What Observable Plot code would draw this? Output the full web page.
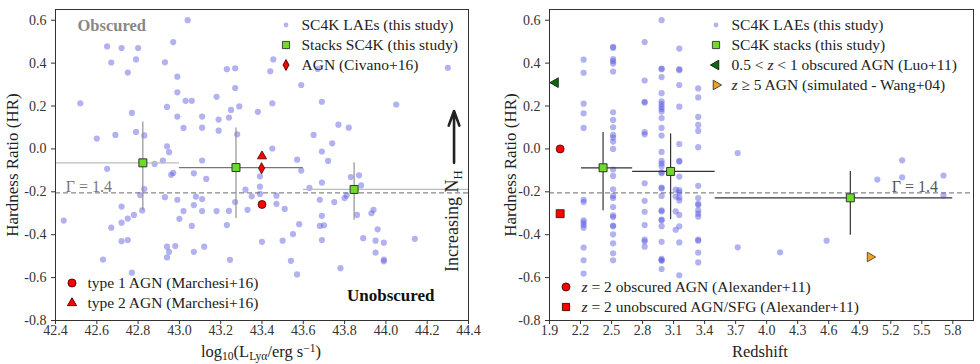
<!DOCTYPE html>
<html><head><meta charset="utf-8">
<script src="https://cdn.jsdelivr.net/npm/d3@7"></script>
<script src="https://cdn.jsdelivr.net/npm/@observablehq/plot@0.6"></script>
<style>
body{margin:0;background:#fff;}
#wrap{position:relative;width:980px;height:364px;}
#left,#right{position:absolute;top:0;}
#left{left:0}#right{left:490px}
</style></head><body><div id="wrap"><div id="left"></div><div id="right"></div></div>
<script>
// ---------- DATA ----------
const xTicksL = [42.4,42.6,42.8,43.0,43.2,43.4,43.6,43.8,44.0,44.2,44.4];
const xTicksR = [1.9,2.2,2.5,2.8,3.1,3.4,3.7,4.0,4.3,4.6,4.9,5.2,5.5,5.8];
const yTicks = [-0.8,-0.6,-0.4,-0.2,0.0,0.2,0.4,0.6];
const gammaHR = -0.205;

// Left panel: SC4K LAEs, log10 L_Lya vs HR
const laeLogL = [43.04,42.65,42.72,42.80,42.97,42.67,42.79,42.75,42.93,42.99,43.23,43.27,43.455,43.44,43.67,44.30,43.59,43.27,42.99,42.52,43.03,43.06,43.18,42.94,42.77,42.99,43.02,43.11,43.11,43.25,43.29,43.24,43.19,43.19,43.38,43.45,43.69,44.05,43.77,43.82,43.65,43.74,43.69,43.72,43.45,43.57,43.59,42.60,42.69,42.79,42.83,42.94,42.95,42.92,42.88,42.65,42.97,42.96,43.11,43.07,43.13,43.28,43.39,43.39,43.32,43.35,43.39,43.47,43.47,43.51,43.27,43.33,43.24,43.18,43.11,43.02,43.07,43.08,43.11,42.99,42.93,43.00,43.06,43.23,42.83,42.81,42.82,42.78,42.75,42.72,42.72,42.67,42.44,42.72,42.75,42.94,42.95,42.94,42.98,43.07,43.12,42.63,42.77,43.245,43.40,43.50,43.55,43.58,43.54,43.57,43.63,43.69,43.68,43.75,43.80,43.81,43.83,43.87,43.88,43.86,43.69,43.70,43.68,43.69,43.78,43.89,43.93,43.94,43.96,43.95,43.99,43.95,43.99,43.99,44.14];
const laeHRL = [0.60,0.478,0.47,0.47,0.498,0.403,0.417,0.356,0.404,0.337,0.372,0.376,0.417,0.362,0.373,0.378,0.298,0.284,0.264,0.213,0.224,0.224,0.243,0.196,0.168,0.151,0.098,0.151,0.099,0.182,0.198,0.146,0.137,0.085,0.173,0.213,0.22,0.207,0.113,0.099,0.065,0.026,-0.012,-0.056,0.002,-0.05,-0.101,0.048,0.065,0.079,0.063,0.012,-0.015,-0.054,-0.07,-0.093,-0.112,-0.121,-0.054,-0.114,-0.14,0.068,-0.128,-0.176,-0.19,-0.221,-0.21,-0.218,-0.256,-0.28,-0.248,-0.284,-0.289,-0.29,-0.29,-0.29,-0.262,-0.222,-0.234,-0.237,-0.225,-0.326,-0.359,-0.355,-0.187,-0.215,-0.287,-0.308,-0.325,-0.269,-0.344,-0.367,-0.334,-0.43,-0.425,-0.456,-0.48,-0.506,-0.453,-0.48,-0.456,-0.516,-0.577,-0.517,-0.433,-0.428,-0.397,-0.351,-0.522,-0.585,-0.182,-0.157,-0.237,-0.248,-0.229,-0.217,-0.131,-0.123,-0.17,-0.308,-0.312,-0.356,-0.359,-0.425,-0.556,-0.416,-0.3,-0.284,-0.375,-0.428,-0.437,-0.484,-0.516,-0.524,-0.419];

// Left panel stacks
const stackLogL = [42.823,43.274,43.846];
const stackLogLlo = [42.4,43.0,43.6];
const stackLogLhi = [43.0,43.6,44.4];
const stackHRL = [-0.065,-0.087,-0.189];
const stackHRLlo = [-0.287,-0.325,-0.333];
const stackHRLhi = [0.126,0.098,-0.065];

// Left panel comparison AGN
const civanoLogL = [43.398], civanoHR = [-0.09];
const marchesi1LogL = [43.4], marchesi1HR = [-0.259];
const marchesi2LogL = [43.4], marchesi2HR = [-0.034];

// Right panel: LAEs grouped by redshift column
const laeZcols = [2.23,2.515,2.82,2.984,3.12,3.155,3.338,3.72,4.13,4.58,5.07,5.31,5.71];
const laeHRcols = [
  [0.416,0.355,0.211,0.166,0.098,-0.237,-0.248,-0.333,-0.343,-0.355,-0.367,-0.46,-0.519,-0.581],
  [0.476,0.471,0.419,0.409,0.398,0.361,0.171,0.135,0.101,0.065,0.053,0.034,0.0,-0.096,-0.126,-0.188,-0.219,-0.229,-0.271,-0.31,-0.318,-0.357,-0.361,-0.398,-0.44,-0.487,-0.519],
  [0.498,0.319,0.22,0.216,0.078,0.068,-0.16,-0.242,-0.293,-0.355,-0.423,-0.431,-0.456],
  [0.6,0.375,0.372,0.335,0.26,0.222,0.209,0.197,0.186,0.174,0.144,0.098,0.062,-0.014,-0.056,-0.068,-0.081,-0.109,-0.113,-0.18,-0.184,-0.219,-0.287,-0.291,-0.329,-0.333,-0.36,-0.433,-0.513,-0.518,-0.522,-0.56],
  [-0.19,-0.222,-0.291,-0.377],
  [0.468,0.372,0.367,0.298,0.197,0.023,-0.056,-0.059,-0.129,-0.192,-0.203,-0.226,-0.24,-0.308,-0.361,-0.436,-0.589],
  [0.282,0.24,0.149,0.112,0.084,0.008,-0.172,-0.229,-0.256,-0.262,-0.287,-0.302,-0.316,-0.423,-0.428,-0.484,-0.529],
  [-0.019,-0.459],
  [-0.482],
  [-0.428],
  [-0.143],
  [-0.053,-0.132],
  [-0.124,-0.217]
];

// Right panel stacks
const stackZ = [2.418,3.071,4.809];
const stackZlo = [2.209,2.704,3.502];
const stackZhi = [2.704,3.502,5.80];
const stackHRR = [-0.088,-0.105,-0.228];
const stackHRRlo = [-0.288,-0.33,-0.403];
const stackHRRhi = [0.076,0.07,-0.105];

// Right panel comparison samples
const luoZ = [1.958], luoHR = [0.309];
const wangZ = [5.0], wangHR = [-0.504];
const alexObsZ = [2.003], alexObsHR = [0.0];
const alexUnobsZ = [2.003], alexUnobsHR = [-0.302];

// annotations
const arrowNH = {x: 44.33, y1: -0.065, y2: 0.177};
const gammaLabelL = {x: 42.45, y: gammaHR};
const gammaLabelR = {x: 5.21, y: gammaHR};

// ---------- HELPERS ----------
const FONT = '"Liberation Serif", "Times New Roman", serif';
const LAE_FILL = "#5555dd";
const GREEN = "#6bdc2c";
const fmt = d => d.toFixed(1);
const pts = (xs, ys) => xs.map((x, i) => ({x, y: ys[i]}));
const thinDiamond = {
  draw(ctx, size) {
    const s = Math.sqrt(size / Math.PI);
    ctx.moveTo(0, -1.3 * s); ctx.lineTo(0.72 * s, 0);
    ctx.lineTo(0, 1.3 * s); ctx.lineTo(-0.72 * s, 0); ctx.closePath();
  }
};

// rich text with explicit dy shifts for sub/superscripts
function rich(sel, parts, size) {
  let shift = 0;
  parts.forEach(p => {
    const target = p.sub ? size * 0.2 : p.sup ? -size * 0.3 : 0;
    const t = sel.append("tspan").text(p.t).attr("dy", target - shift);
    shift = target;
    if (p.i) t.attr("font-style", "italic");
    if (p.sub || p.sup) t.attr("font-size", size * 0.7);
  });
}

function legend(svg, x, y0, step, items) {
  const g = d3.select(svg).append("g").attr("text-anchor", "start");
  items.forEach((it, k) => {
    const y = y0 + k * step;
    g.append("path")
      .attr("d", d3.symbol().type(it.type).size(it.size)())
      .attr("transform", `translate(${x},${y}) rotate(${it.rotate || 0})`)
      .attr("fill", it.fill).attr("fill-opacity", it.op ?? 1)
      .attr("stroke", it.stroke || "none").attr("stroke-width", 0.9);
    const t = g.append("text").attr("x", x + 15.5).attr("y", y + 5.3)
      .attr("text-anchor", "start")
      .attr("font-family", FONT).attr("font-size", 15.5).attr("fill", "#222");
    rich(t, it.parts, 15.5);
  });
}

function axisLabels(svg, yl, xParts, yText, xCenter) {
  const s = d3.select(svg);
  const t = s.append("text").attr("x", xCenter).attr("y", 357).attr("text-anchor", "middle")
    .attr("font-family", FONT).attr("font-size", 16.5).attr("fill", "#222");
  rich(t, xParts, 16.5);
  s.append("text").attr("transform", `translate(${yl},165) rotate(-90)`).attr("text-anchor", "middle")
    .attr("font-family", FONT).attr("font-size", 17).attr("fill", "#222").text(yText);
}

const common = {
  height: 364, marginTop: 9, marginBottom: 44,
  style: {fontFamily: FONT, fontSize: "14px", color: "#333", background: "white", overflow: "visible"},
};

// ---------- LEFT PANEL ----------
const lae = pts(laeLogL, laeHRL);
const stacksL = stackLogL.map((x, i) => ({x, y: stackHRL[i], x1: stackLogLlo[i], x2: stackLogLhi[i], y1: stackHRLlo[i], y2: stackHRLhi[i], k: i}));

const left = Plot.plot({
  ...common, width: 490, marginLeft: 55, marginRight: 22,
  x: {domain: [42.4, 44.4], ticks: xTicksL, tickFormat: fmt, tickSize: 4, tickPadding: 1, label: null},
  y: {domain: [-0.8, 0.65], ticks: yTicks, tickFormat: fmt, tickSize: 4, label: null},
  marks: [
    Plot.ruleY([gammaHR], {stroke: "#888", strokeDasharray: "5,3", strokeWidth: 1.1}),
    Plot.text([gammaLabelL], {x: "x", y: "y", text: () => "Γ = 1.4", textAnchor: "start", lineAnchor: "bottom", dy: -1, fill: "#777", fontSize: 16}),
    Plot.dot(lae, {x: "x", y: "y", r: 3.1, fill: LAE_FILL, fillOpacity: 0.45}),
    Plot.ruleY(stacksL, {y: "y", x1: "x1", x2: "x2", stroke: d => d.k === 1 ? "#777" : "#bbb", strokeWidth: 1.3}),
    Plot.ruleX(stacksL, {x: "x", y1: "y1", y2: "y2", stroke: "#888", strokeWidth: 1.1}),
    Plot.dot(stacksL, {x: "x", y: "y", symbol: "square", r: 4.5, fill: GREEN, stroke: "#333", strokeWidth: 1}),
    Plot.dot(pts(civanoLogL, civanoHR), {x: "x", y: "y", symbol: thinDiamond, r: 4.3, fill: "red", stroke: "#400", strokeWidth: 0.8}),
    Plot.dot(pts(marchesi1LogL, marchesi1HR), {x: "x", y: "y", symbol: "circle", r: 4, fill: "red", stroke: "#400", strokeWidth: 0.8}),
    Plot.dot(pts(marchesi2LogL, marchesi2HR), {x: "x", y: "y", symbol: "triangle", r: 3.4, fill: "red", stroke: "#400", strokeWidth: 0.8}),
    Plot.arrow([arrowNH], {x1: "x", x2: "x", y1: "y1", y2: "y2", stroke: "#222", strokeWidth: 2.6, headLength: 9, headAngle: 40}),
    Plot.text(["Obscured"], {frameAnchor: "top-left", dx: 22, dy: 10, fill: "#888", fontWeight: "bold", fontSize: 16.5, textAnchor: "start"}),
    Plot.text(["Unobscured"], {frameAnchor: "bottom-right", dx: -34, dy: -20, fill: "#111", fontWeight: "bold", fontSize: 17, textAnchor: "end"}),
    Plot.frame({stroke: "#333", strokeWidth: 1})
  ]
});
document.getElementById("left").append(left);

legend(left, 286, 25, 20, [
  {type: d3.symbolCircle, size: 18, fill: LAE_FILL, op: 0.45, parts: [{t: "SC4K LAEs (this study)"}]},
  {type: d3.symbolSquare, size: 52, fill: GREEN, stroke: "#333", parts: [{t: "Stacks SC4K (this study)"}]},
  {type: thinDiamond, size: 55, fill: "red", stroke: "#400", parts: [{t: "AGN (Civano+16)"}]}
]);
legend(left, 72, 283, 20, [
  {type: d3.symbolCircle, size: 50, fill: "red", stroke: "#400", parts: [{t: "type 1 AGN (Marchesi+16)"}]},
  {type: d3.symbolTriangle, size: 36, fill: "red", stroke: "#400", parts: [{t: "type 2 AGN (Marchesi+16)"}]}
]);
axisLabels(left, 18, [{t: "log"}, {t: "10", sub: true}, {t: "(L"}, {t: "Lyα", sub: true}, {t: "/erg s"}, {t: "−1", sup: true}, {t: ")"}], "Hardness Ratio (HR)", 261);
{
  const t = d3.select(left).append("text").attr("transform", "translate(458,272) rotate(-90)")
    .attr("text-anchor", "start").attr("font-family", FONT).attr("font-size", 18).attr("fill", "#222");
  rich(t, [{t: "Increasing N"}, {t: "H", sub: true}], 18);
}

// ---------- RIGHT PANEL ----------
const laeR = laeZcols.flatMap((z, i) => laeHRcols[i].map(y => ({x: z, y})));
const stacksR = stackZ.map((x, i) => ({x, y: stackHRR[i], x1: stackZlo[i], x2: stackZhi[i], y1: stackHRRlo[i], y2: stackHRRhi[i]}));

const right = Plot.plot({
  ...common, width: 490, marginLeft: 59, marginRight: 7,
  x: {domain: [1.9, 6.0], ticks: xTicksR, tickFormat: fmt, tickSize: 4, tickPadding: 1, label: null},
  y: {domain: [-0.8, 0.65], ticks: yTicks, tickFormat: fmt, tickSize: 4, label: null},
  marks: [
    Plot.ruleY([gammaHR], {stroke: "#888", strokeDasharray: "5,3", strokeWidth: 1.1}),
    Plot.text([gammaLabelR], {x: "x", y: "y", text: () => "Γ = 1.4", textAnchor: "start", lineAnchor: "bottom", dy: -1, fill: "#555", fontSize: 16}),
    Plot.dot(laeR, {x: "x", y: "y", r: 3.1, fill: LAE_FILL, fillOpacity: 0.45}),
    Plot.ruleY(stacksR, {y: "y", x1: "x1", x2: "x2", stroke: "#333", strokeWidth: 1.2}),
    Plot.ruleX(stacksR, {x: "x", y1: "y1", y2: "y2", stroke: "#333", strokeWidth: 1.2}),
    Plot.dot(stacksR, {x: "x", y: "y", symbol: "square", r: 4.5, fill: GREEN, stroke: "#333", strokeWidth: 1}),
    Plot.dot(pts(luoZ, luoHR), {x: "x", y: "y", symbol: "triangle", r: 3.6, rotate: -90, fill: "#0a6a0a", stroke: "#111", strokeWidth: 0.8}),
    Plot.dot(pts(wangZ, wangHR), {x: "x", y: "y", symbol: "triangle", r: 3.6, rotate: 90, fill: "#f5a020", stroke: "#333", strokeWidth: 0.8}),
    Plot.dot(pts(alexObsZ, alexObsHR), {x: "x", y: "y", symbol: "circle", r: 4, fill: "red", stroke: "#400", strokeWidth: 0.8}),
    Plot.dot(pts(alexUnobsZ, alexUnobsHR), {x: "x", y: "y", symbol: "square", r: 4.5, fill: "red", stroke: "#400", strokeWidth: 0.8}),
    Plot.frame({stroke: "#333", strokeWidth: 1})
  ]
});
document.getElementById("right").append(right);

legend(right, 226, 25, 20, [
  {type: d3.symbolCircle, size: 18, fill: LAE_FILL, op: 0.45, parts: [{t: "SC4K LAEs (this study)"}]},
  {type: d3.symbolSquare, size: 52, fill: GREEN, stroke: "#333", parts: [{t: "SC4K stacks (this study)"}]},
  {type: d3.symbolTriangle, size: 40, rotate: -90, fill: "#0a6a0a", stroke: "#111", parts: [{t: "0.5 < "}, {t: "z", i: true}, {t: " < 1 obscured AGN (Luo+11)"}]},
  {type: d3.symbolTriangle, size: 40, rotate: 90, fill: "#f5a020", stroke: "#333", parts: [{t: "z", i: true}, {t: " ≥ 5 AGN (simulated - Wang+04)"}]}
]);
legend(right, 76, 287, 20, [
  {type: d3.symbolCircle, size: 50, fill: "red", stroke: "#400", parts: [{t: "z", i: true}, {t: " = 2 obscured AGN (Alexander+11)"}]},
  {type: d3.symbolSquare, size: 52, fill: "red", stroke: "#400", parts: [{t: "z", i: true}, {t: " = 2 unobscured AGN/SFG (Alexander+11)"}]}
]);
axisLabels(right, 26, [{t: "Redshift"}], "Hardness Ratio (HR)", 270);
</script>
</body></html>
